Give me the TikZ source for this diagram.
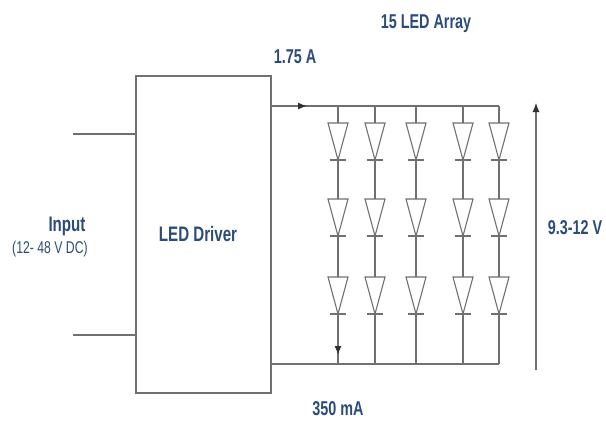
\documentclass[tikz,border=0pt]{standalone}
\usepackage{fontspec}
\setmainfont{Liberation Sans}[FakeStretch=0.72]
\usetikzlibrary{arrows.meta}

\definecolor{azul}{HTML}{2B4B7B}
\definecolor{cinza}{HTML}{707070}
\definecolor{escuro}{HTML}{303030}

\tikzstyle{legenda} = [font=\bfseries\fontsize{20}{22}\selectfont, text=azul, inner sep=0pt]
\tikzstyle{fio} = [draw=cinza, line width=1.8pt]
\tikzstyle{diodo} = [draw=cinza, line width=1.1pt, fill=white]
\tikzstyle{ponta} = [arrows={-Latex[length=9pt, width=7pt, color=escuro]}]

\begin{document}
\begin{tikzpicture}[x=1pt, y=-1pt]
    \useasboundingbox (0,0) rectangle (606,423);

    % driver block
    \node (driver) at (203.5,234.5) [fio, minimum width=135pt, minimum height=317pt] {};
    \node at (198,234) [legenda, font=\bfseries\fontsize{21}{23}\selectfont] (nome) {LED Driver};

    % input side
    \coordinate (in1) at (73,134);
    \coordinate (in2) at (73,335);
    \draw [fio] (in1) -- (driver.west |- in1);
    \draw [fio] (in2) -- (driver.west |- in2);
    \node at (67,226) [legenda, font=\bfseries\fontsize{21}{23}\selectfont] (entrada) {Input};
    \node at (50,249) [inner sep=0pt, text=azul, font=\fontsize{17}{19}\selectfont] (faixa) {(12- 48 V DC)};

    % supply rails
    \coordinate (topo) at (499,106);
    \coordinate (base) at (499,364);
    \coordinate (seta) at (307,106);
    \draw [fio] (driver.east |- topo) -- (topo);
    \draw [draw=cinza, line width=1.3pt, ponta] (driver.east |- topo) -- (seta);
    \draw [fio] (driver.east |- base) -- (base);

    % led strings
    \foreach \x in {338,375,416,463,499} {
        \draw [fio, line width=1.3pt] (\x,106) -- (\x,364);
        \foreach \y in {123,199,277} {
            \draw [diodo] (\x-10,\y) -- (\x+10,\y) -- (\x,\y+37) -- cycle;
            \draw [diodo, line width=1.4pt] (\x-8,\y+37) -- (\x+8,\y+37);
        }
    }
    \draw [draw=cinza, line width=1.3pt, ponta] (338,316) -- (338,355);

    % string voltage
    \coordinate (v0) at (536,370);
    \coordinate (v1) at (536,103);
    \draw [draw=cinza, line width=1.1pt, ponta] (v0) -- (v1);
    \node at (575,228) [legenda] (tensao) {9.3-12 V};

    % labels
    \node at (426,24) [legenda] (titulo) {15 LED Array};
    \node at (295,57) [legenda] (corrente) {1.75 A};
    \node at (338,409) [legenda] (ramo) {350 mA};

\end{tikzpicture}
\end{document}
